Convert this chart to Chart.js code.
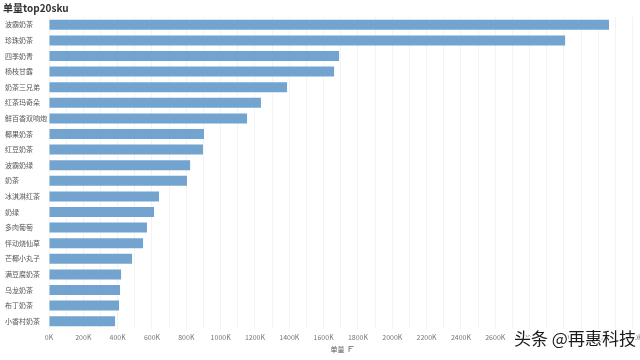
<!DOCTYPE html>
<html><head><meta charset="utf-8">
<script src="https://cdn.jsdelivr.net/npm/chart.js@4/dist/chart.umd.min.js"></script>
<style>html,body{margin:0;padding:0;background:#fff}#wrap{width:640px;height:360px;position:relative}</style>
</head><body><div id="wrap"><canvas id="c" width="640" height="360"></canvas></div>
<script>
const chartTitle = '单量top20sku';
const axisTitle = '单量';
const watermark = '头条 @再惠科技';
const categories = ['波霸奶茶','珍珠奶茶','四季奶青','杨枝甘露','奶茶三兄弟','红茶玛奇朵','鲜百香双响炮','椰果奶茶','红豆奶茶','波霸奶绿','奶茶','冰淇淋红茶','奶绿','多肉葡萄','怦动烧仙草','芒椰小丸子','满豆腐奶茶','乌龙奶茶','布丁奶茶','小香村奶茶'];
const orders = [3263000,3007000,1690000,1661000,1387000,1235000,1154000,903000,897000,822000,804000,641000,612000,571000,548000,484000,420000,414000,408000,385000];
const xMax = 3420000;
const xStep = 100000;
const lastTick = 3400000;
const labelEvery = 2;

const FONT = '"Noto Sans CJK SC","Noto Sans",sans-serif';

const extras = {
  id: 'extras',
  afterDraw(chart) {
    const ctx = chart.ctx, a = chart.chartArea;
    ctx.save();
    ctx.fillStyle = '#333';
    ctx.font = 'bold 10px ' + FONT;
    ctx.textBaseline = 'middle';
    ctx.textAlign = 'left';
    ctx.fillText(chartTitle, 3, 8);
    ctx.font = '7px ' + FONT;
    ctx.fillStyle = '#555';
    const cx = (a.left + a.right) / 2;
    ctx.textAlign = 'right';
    ctx.fillText(axisTitle, cx + 2, 349);
    ctx.strokeStyle = '#888'; ctx.lineWidth = 1;
    ctx.beginPath();
    ctx.moveTo(cx + 6.5, 346); ctx.lineTo(cx + 6.5, 352);
    ctx.moveTo(cx + 6.5, 346.5); ctx.lineTo(cx + 11, 346.5);
    ctx.moveTo(cx + 6.5, 348.5); ctx.lineTo(cx + 9, 348.5);
    ctx.stroke();
    ctx.font = '17px ' + FONT;
    ctx.textAlign = 'left';
    ctx.lineWidth = 3; ctx.strokeStyle = '#fff';
    ctx.strokeText(watermark, 514, 339);
    ctx.fillStyle = '#1a1a1a';
    ctx.fillText(watermark, 514, 339);
    ctx.restore();
  }
};

new Chart(document.getElementById('c'), {
  type: 'bar',
  data: {
    labels: categories,
    datasets: [{
      data: orders,
      backgroundColor: '#72a4cf',
      borderWidth: 0,
      barPercentage: 1,
      categoryPercentage: 0.64
    }]
  },
  options: {
    indexAxis: 'y',
    responsive: false,
    animation: false,
    events: [],
    layout: { padding: { left: 5, right: 4, top: 17, bottom: 0 } },
    plugins: { legend: { display: false }, tooltip: { enabled: false }, title: { display: false } },
    scales: {
      x: {
        min: 0, max: xMax,
        border: { display: false },
        grid: { color: '#f3f3f3', lineWidth: 1, drawTicks: false },
        afterBuildTicks: s => {
          const t = [];
          for (let v = 0; v <= lastTick; v += xStep) t.push({ value: v });
          s.ticks = t;
        },
        ticks: {
          autoSkip: false, maxRotation: 0,
          padding: 4, color: '#777',
          font: { family: FONT, size: 7 },
          callback: v => (Math.round(v / xStep) % labelEvery === 0 ? Math.round(v / 1000) + 'K' : '')
        },
        afterFit: s => { s.height = 31; s.paddingLeft = 0; s.paddingRight = 0; }
      },
      y: {
        border: { display: false },
        grid: { display: false, drawTicks: false },
        ticks: {
          crossAlign: 'far', padding: 0, color: '#555', autoSkip: false,
          font: { family: FONT, size: 7 }
        },
        afterFit: s => { s.width = 44; s.paddingTop = 0; s.paddingBottom = 0; }
      }
    }
  },
  plugins: [extras]
});
</script></body></html>
